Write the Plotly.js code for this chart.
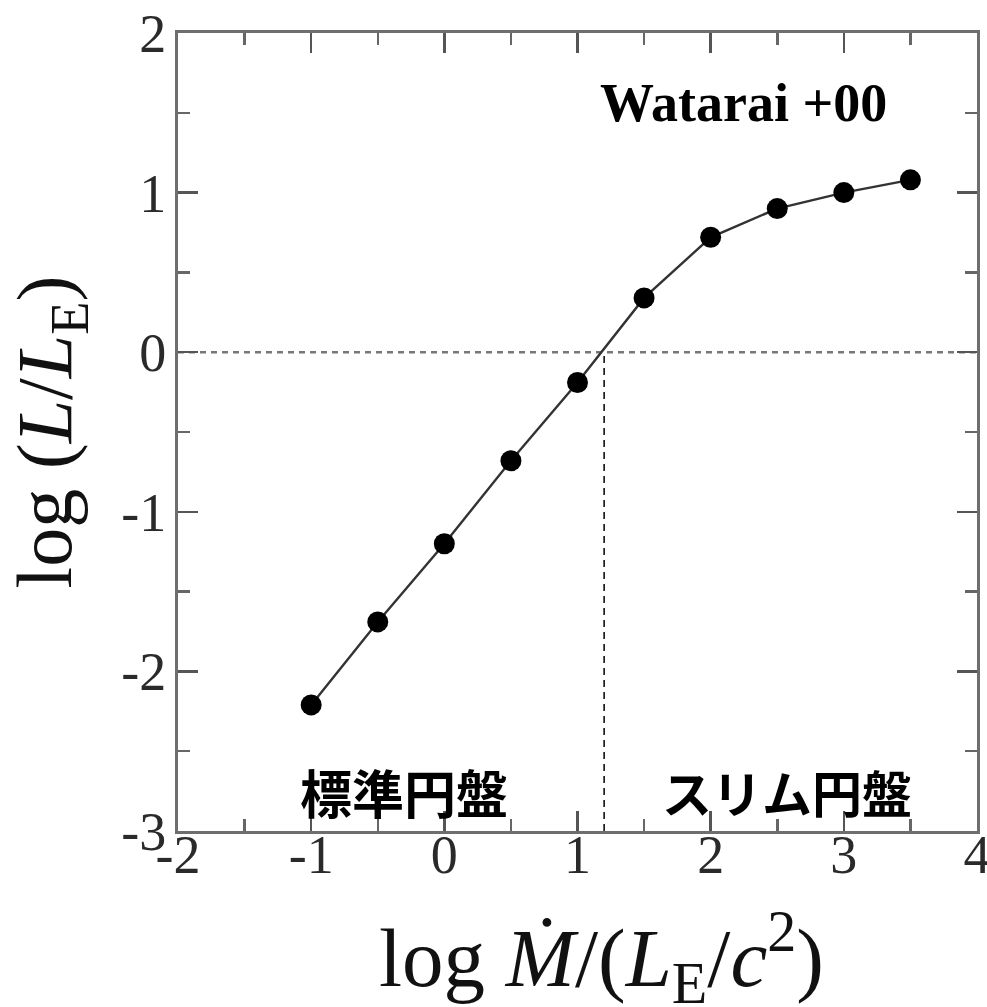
<!DOCTYPE html>
<html>
<head>
<meta charset="utf-8">
<script src="https://cdn.plot.ly/plotly-3.0.1.min.js"></script>
<style>
  html, body { margin: 0; padding: 0; background: #fff; }
  #chart { width: 987px; height: 1007px; }
</style>
</head>
<body>
<div id="chart"></div>
<script>
// Slim-disk model: luminosity vs. mass accretion rate
const logMdot = [-1, -0.5, 0, 0.5, 1, 1.5, 2, 2.5, 3, 3.5];
const logL = [-2.21, -1.69, -1.20, -0.68, -0.19, 0.34, 0.72, 0.90, 1.00, 1.08];

// boundary between the standard disk and the slim disk regime
const transitionMdot = 1.2;

const xTickVals = [-2, -1, 0, 1, 2, 3, 4];
const xTickText = ['-2', '-1', '0', '1', '2', '3', '4'];
const yTickVals = [-3, -2, -1, 0, 1, 2];
const yTickText = ['-3', '-2', '-1', '0', '1', '2'];

const xRange = [-2, 4];
const yRange = [-3, 2];

const serif = 'Liberation Serif, Times New Roman, serif';
const cjk = 'Noto Sans CJK JP, sans-serif';

const trace = {
  x: logMdot,
  y: logL,
  mode: 'lines+markers',
  type: 'scatter',
  line: { color: '#333', width: 2.4 },
  marker: { color: '#000', size: 21, line: { width: 0 } },
  hoverinfo: 'x+y'
};

const axisCommon = {
  showgrid: false,
  zeroline: false,
  showline: true,
  linecolor: '#6e6e6e',
  linewidth: 3,
  mirror: 'ticks',
  ticks: 'inside',
  ticklen: 20,
  tickwidth: 2.5,
  tickcolor: '#555',
  tickmode: 'array',
  ticklabeloverflow: 'allow',
  tickfont: { family: serif, size: 54, color: '#2a2a2a' },
  minor: { dtick: 0.5, ticks: 'inside', ticklen: 12, tickwidth: 2.5, tickcolor: '#666' }
};

const layout = {
  width: 987,
  height: 1007,
  margin: { l: 178, r: 10, t: 33, b: 176 },
  paper_bgcolor: '#fff',
  plot_bgcolor: '#fff',
  showlegend: false,
  xaxis: Object.assign({}, axisCommon, {
    range: xRange,
    tickvals: xTickVals,
    ticktext: xTickText,
    ticklabelstandoff: -26
  }),
  yaxis: Object.assign({}, axisCommon, {
    range: yRange,
    tickvals: yTickVals,
    ticktext: yTickText,
    ticklabelstandoff: -2,
    title: {
      text: 'log (<i>L</i>/<i>L</i><sub>E</sub>)',
      font: { family: serif, size: 78, color: '#111' },
      standoff: 24
    }
  }),
  shapes: [
    {
      type: 'line', xref: 'x', yref: 'y',
      x0: xRange[0], x1: xRange[1], y0: 0, y1: 0,
      line: { color: '#777', width: 2.6, dash: '6px,5px' },
      layer: 'below'
    },
    {
      type: 'line', xref: 'x', yref: 'y',
      x0: transitionMdot, x1: transitionMdot, y0: yRange[0], y1: 0,
      line: { color: '#111', width: 1.6, dash: '7px,5px' },
      layer: 'below'
    }
  ],
  annotations: [
    {
      // x-axis title, set slightly right of the plot centre
      x: 0.53, y: 0, xref: 'paper', yref: 'paper',
      xanchor: 'center', yanchor: 'top', yshift: -66,
      text: 'log <i>Ṁ</i>/(<i>L</i><sub>E</sub>/<i>c</i><sup>2</sup>)', showarrow: false,
      font: { family: serif, size: 83, color: '#111' }
    },
    {
      x: 2.25, y: 1.56, xref: 'x', yref: 'y',
      text: '<b>Watarai +00</b>', showarrow: false,
      font: { family: serif, size: 54, color: '#000' }
    },
    {
      x: -0.3, y: -2.75, xref: 'x', yref: 'y',
      text: '<b>標準円盤</b>', showarrow: false,
      font: { family: cjk, size: 52, color: '#000' }
    },
    {
      x: 2.57, y: -2.75, xref: 'x', yref: 'y',
      text: '<b>スリム円盤</b>', showarrow: false,
      font: { family: cjk, size: 50, color: '#000' }
    }
  ]
};

Plotly.newPlot('chart', [trace], layout, { staticPlot: true, displayModeBar: false });
</script>
</body>
</html>
